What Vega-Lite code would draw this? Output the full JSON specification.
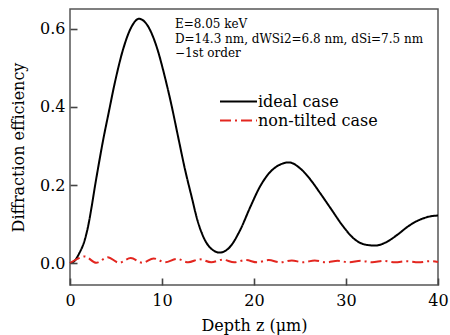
{
  "$schema": "https://vega.github.io/schema/vega-lite/v6.json",
  "width": 368,
  "height": 276,
  "autosize": {"type": "none"},
  "padding": {"left": 70, "top": 9, "right": 12, "bottom": 50},
  "background": "white",
  "config": {
    "font": "DejaVu Serif",
    "view": {"stroke": "#555555", "strokeWidth": 1.5},
    "axis": {"labelFont": "DejaVu Serif", "titleFont": "DejaVu Serif", "ticks": true},
    "legend": {"labelFont": "DejaVu Serif"},
    "text": {"font": "DejaVu Serif"}
  },
  "datasets": {
    "curves": [
      {"series": "ideal case", "depth": 0, "efficiency": 0},
      {"series": "ideal case", "depth": 0.5, "efficiency": 0.006},
      {"series": "ideal case", "depth": 1.0, "efficiency": 0.025},
      {"series": "ideal case", "depth": 1.6, "efficiency": 0.059},
      {"series": "ideal case", "depth": 2.0, "efficiency": 0.098},
      {"series": "ideal case", "depth": 2.35, "efficiency": 0.144},
      {"series": "ideal case", "depth": 2.7, "efficiency": 0.195},
      {"series": "ideal case", "depth": 3.1, "efficiency": 0.25},
      {"series": "ideal case", "depth": 3.6, "efficiency": 0.315},
      {"series": "ideal case", "depth": 4.2, "efficiency": 0.385},
      {"series": "ideal case", "depth": 4.9, "efficiency": 0.465},
      {"series": "ideal case", "depth": 5.8, "efficiency": 0.55},
      {"series": "ideal case", "depth": 6.7, "efficiency": 0.606},
      {"series": "ideal case", "depth": 7.5, "efficiency": 0.626},
      {"series": "ideal case", "depth": 8.5, "efficiency": 0.606},
      {"series": "ideal case", "depth": 9.5, "efficiency": 0.548},
      {"series": "ideal case", "depth": 10.3, "efficiency": 0.478},
      {"series": "ideal case", "depth": 11.0, "efficiency": 0.408},
      {"series": "ideal case", "depth": 11.8, "efficiency": 0.318},
      {"series": "ideal case", "depth": 12.5, "efficiency": 0.24},
      {"series": "ideal case", "depth": 13.2, "efficiency": 0.172},
      {"series": "ideal case", "depth": 13.9, "efficiency": 0.106},
      {"series": "ideal case", "depth": 14.6, "efficiency": 0.062},
      {"series": "ideal case", "depth": 15.4, "efficiency": 0.036},
      {"series": "ideal case", "depth": 16.3, "efficiency": 0.027},
      {"series": "ideal case", "depth": 17.4, "efficiency": 0.042},
      {"series": "ideal case", "depth": 18.5, "efficiency": 0.085},
      {"series": "ideal case", "depth": 19.6, "efficiency": 0.144},
      {"series": "ideal case", "depth": 20.65, "efficiency": 0.196},
      {"series": "ideal case", "depth": 21.7, "efficiency": 0.232},
      {"series": "ideal case", "depth": 22.8, "efficiency": 0.252},
      {"series": "ideal case", "depth": 23.8, "efficiency": 0.258},
      {"series": "ideal case", "depth": 25.0, "efficiency": 0.243},
      {"series": "ideal case", "depth": 26.1, "efficiency": 0.215},
      {"series": "ideal case", "depth": 27.2, "efficiency": 0.179},
      {"series": "ideal case", "depth": 28.4, "efficiency": 0.138},
      {"series": "ideal case", "depth": 29.6, "efficiency": 0.097},
      {"series": "ideal case", "depth": 30.8, "efficiency": 0.064},
      {"series": "ideal case", "depth": 32.0, "efficiency": 0.048},
      {"series": "ideal case", "depth": 33.2, "efficiency": 0.045},
      {"series": "ideal case", "depth": 34.4, "efficiency": 0.054},
      {"series": "ideal case", "depth": 35.6, "efficiency": 0.073},
      {"series": "ideal case", "depth": 36.8, "efficiency": 0.095},
      {"series": "ideal case", "depth": 38.0, "efficiency": 0.111},
      {"series": "ideal case", "depth": 39.2, "efficiency": 0.12},
      {"series": "ideal case", "depth": 40, "efficiency": 0.122},
      {"series": "non-tilted case", "depth": 0, "efficiency": 0},
      {"series": "non-tilted case", "depth": 0.8, "efficiency": 0.011},
      {"series": "non-tilted case", "depth": 1.6, "efficiency": 0.017},
      {"series": "non-tilted case", "depth": 2.85, "efficiency": 0.001},
      {"series": "non-tilted case", "depth": 4.1, "efficiency": 0.015},
      {"series": "non-tilted case", "depth": 5.35, "efficiency": 0.001},
      {"series": "non-tilted case", "depth": 6.6, "efficiency": 0.013},
      {"series": "non-tilted case", "depth": 7.85, "efficiency": 0.001},
      {"series": "non-tilted case", "depth": 9.1, "efficiency": 0.012},
      {"series": "non-tilted case", "depth": 10.35, "efficiency": 0.002},
      {"series": "non-tilted case", "depth": 11.6, "efficiency": 0.011},
      {"series": "non-tilted case", "depth": 12.85, "efficiency": 0.002},
      {"series": "non-tilted case", "depth": 14.1, "efficiency": 0.01},
      {"series": "non-tilted case", "depth": 15.35, "efficiency": 0.002},
      {"series": "non-tilted case", "depth": 16.6, "efficiency": 0.009},
      {"series": "non-tilted case", "depth": 17.85, "efficiency": 0.002},
      {"series": "non-tilted case", "depth": 19.1, "efficiency": 0.008},
      {"series": "non-tilted case", "depth": 20.35, "efficiency": 0.002},
      {"series": "non-tilted case", "depth": 21.6, "efficiency": 0.008},
      {"series": "non-tilted case", "depth": 22.85, "efficiency": 0.002},
      {"series": "non-tilted case", "depth": 24.1, "efficiency": 0.007},
      {"series": "non-tilted case", "depth": 25.35, "efficiency": 0.002},
      {"series": "non-tilted case", "depth": 26.6, "efficiency": 0.007},
      {"series": "non-tilted case", "depth": 27.85, "efficiency": 0.002},
      {"series": "non-tilted case", "depth": 29.1, "efficiency": 0.006},
      {"series": "non-tilted case", "depth": 30.35, "efficiency": 0.002},
      {"series": "non-tilted case", "depth": 31.6, "efficiency": 0.006},
      {"series": "non-tilted case", "depth": 32.85, "efficiency": 0.002},
      {"series": "non-tilted case", "depth": 34.1, "efficiency": 0.006},
      {"series": "non-tilted case", "depth": 35.35, "efficiency": 0.002},
      {"series": "non-tilted case", "depth": 36.6, "efficiency": 0.005},
      {"series": "non-tilted case", "depth": 37.85, "efficiency": 0.002},
      {"series": "non-tilted case", "depth": 39.1, "efficiency": 0.005},
      {"series": "non-tilted case", "depth": 40, "efficiency": 0.003}
    ],
    "notes": [
      {"x": 11.4, "y": 0.612, "label": "E=8.05 keV"},
      {"x": 11.4, "y": 0.574, "label": "D=14.3 nm, dWSi2=6.8 nm, dSi=7.5 nm"},
      {"x": 11.4, "y": 0.538, "label": "−1st order"}
    ]
  },
  "layer": [
    {
      "data": {"name": "curves"},
      "mark": {"type": "line", "interpolate": "monotone", "strokeWidth": 2},
      "encoding": {
        "x": {
          "field": "depth", "type": "quantitative",
          "scale": {"domain": [0, 40], "nice": false},
          "axis": {"values": [0, 10, 20, 30, 40], "offset": -7, "ticks": true, "tickSize": 7, "tickColor": "#444444", "tickWidth": 1.6, "tickOpacity": 1,
            "zindex": 2, "domain": false, "grid": false, "labelFlush": false, "labelFontSize": 16, "labelColor": "#000000",
            "labelPadding": 7, "title": "Depth z (μm)", "titleFontSize": 16, "titleFontWeight": "normal",
            "titleColor": "#000000", "titlePadding": 9}
        },
        "y": {
          "field": "efficiency", "type": "quantitative",
          "scale": {"domain": [-0.056, 0.651], "nice": false, "zero": false},
          "axis": {"values": [0, 0.2, 0.4, 0.6], "format": ".1f", "offset": -7, "ticks": true, "tickSize": 7, "tickColor": "#444444", "tickWidth": 1.6, "tickOpacity": 1,
            "zindex": 2, "domain": false, "grid": false, "labelFlush": false, "labelFontSize": 16, "labelColor": "#000000",
            "labelPadding": 5, "title": "Diffraction efficiency", "titleFontSize": 16, "titleFontWeight": "normal",
            "titleColor": "#000000", "titlePadding": 13}
        },
        "color": {
          "field": "series", "type": "nominal",
          "scale": {"domain": ["ideal case", "non-tilted case"], "range": ["#000000", "#e3261f"]},
          "legend": {"title": null, "orient": "none", "legendX": 158, "legendY": 82, "symbolType": "M-2,0H2",
            "symbolSize": 342, "symbolStrokeWidth": 2, "labelFontSize": 16, "labelColor": "#000000",
            "labelOffset": 9, "rowPadding": 0, "padding": 0}
        },
        "strokeDash": {
          "field": "series", "type": "nominal",
          "scale": {"domain": ["ideal case", "non-tilted case"], "range": [[1, 0], [11, 4, 2, 4]]},
          "legend": {"title": null, "orient": "none", "legendX": 158, "legendY": 82, "symbolType": "M-2,0H2",
            "symbolSize": 342, "symbolStrokeWidth": 2, "labelFontSize": 16, "labelColor": "#000000",
            "labelOffset": 9, "rowPadding": 0, "padding": 0}
        }
      }
    },
    {
      "data": {"name": "notes"},
      "mark": {"type": "text", "align": "left", "baseline": "middle", "fontSize": 12, "color": "#000000"},
      "encoding": {
        "x": {"field": "x", "type": "quantitative"},
        "y": {"field": "y", "type": "quantitative"},
        "text": {"field": "label"}
      }
    }
  ]
}
